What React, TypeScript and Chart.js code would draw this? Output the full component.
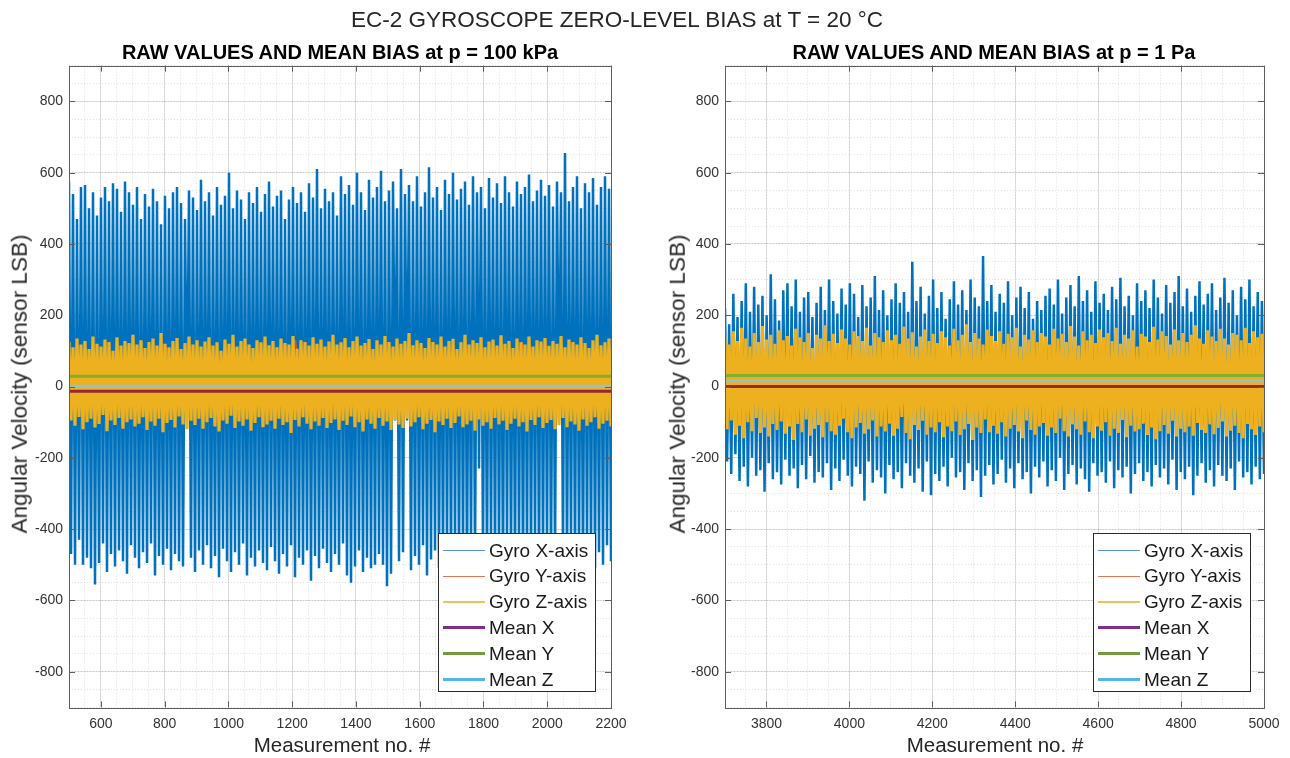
import React, { useEffect, useRef } from 'react';
import { Chart, registerables } from 'chart.js';
Chart.register(...registerables);

// ---------- DATA ----------
const MAIN_TITLE = 'EC-2 GYROSCOPE ZERO-LEVEL BIAS at T = 20 °C';
const LEFT_TITLE = 'RAW VALUES AND MEAN BIAS at p = 100 kPa';
const RIGHT_TITLE = 'RAW VALUES AND MEAN BIAS at p = 1 Pa';
const X_LABEL = 'Measurement no. #';
const Y_LABEL = 'Angular Velocity (sensor LSB)';
const SERIES_LABELS = ['Gyro X-axis', 'Gyro Y-axis', 'Gyro Z-axis', 'Mean X', 'Mean Y', 'Mean Z'];

const Y_MIN = -900;
const Y_MAX = 900;
const Y_TICKS = [-800, -600, -400, -200, 0, 200, 400, 600, 800];
const MINOR_STEP = 50;

const L_X_RANGE = [500, 2200];
const L_X_TICKS = [600, 800, 1000, 1200, 1400, 1600, 1800, 2000, 2200];
const R_X_RANGE = [3700, 5000];
const R_X_TICKS = [3800, 4000, 4200, 4400, 4600, 4800, 5000];

// mean bias [X, Y, Z]
const L_MEANS = [-13, 29, 1];
const R_MEANS = [0, 31, 16];

// left panel (p = 100 kPa): successive peaks / troughs of the raw signals
const L_X_HI = [
  575, 540, 470, 560, 565, 500, 545, 480, 530, 560, 520, 570, 555, 490, 575, 545, 510,
  560, 470, 540, 505, 555, 520, 455, 535, 500, 545, 560, 515, 470, 550, 530, 495, 580,
  520, 545, 480, 560, 510, 535, 600, 500, 550, 525, 470, 545, 515, 560, 490, 540, 575,
  505, 535, 550, 470, 525, 560, 515, 545, 490, 570, 530, 610, 500, 555, 520, 545, 480,
  590, 540, 565, 510, 600, 545, 495, 580, 530, 560, 605, 520, 550, 575, 500, 610, 540,
  565, 520, 590, 505, 545, 615, 530, 560, 495, 580, 540, 600, 525, 555, 575, 510, 590,
  545, 560, 500, 585, 530, 570, 515, 590, 545, 505, 575, 540, 560, 595, 520, 550, 580,
  535, 565, 505, 575, 545, 655, 520, 560, 590, 500, 570, 545, 585, 510, 560, 590, 555,
];
const L_X_LO = [
  -470, -500, -430, -500, -480, -510, -555, -495, -440, -520, -470, -505, -460, -490, -525, -445, -480,
  -510, -465, -495, -440, -530, -475, -500, -455, -515, -470, -490, -505, -95, -480, -520, -460, -500,
  -445, -510, -475, -535, -455, -490, -520, -465, -500, -440, -530, -480, -505, -460, -495, -515, -450,
  -490, -525, -470, -505, -445, -535, -480, -500, -460, -545, -475, -510, -455, -495, -520, -470, -500,
  -440, -530, -550, -505, -460, -520, -480, -510, -500, -470, -500, -560, -525, -95, -490, -465, -95,
  -515, -475, -500, -445, -530, -485, -460, -510, -495, -470, -520, -450, -505, -480, -535, -460, -490,
  -230, -470, -515, -455, -500, -480, -525, -445, -495, -510, -465, -530, -475, -500, -450, -520, -485,
  -460, -505, -480, -95, -470, -515, -450, -500, -475, -520, -455, -490, -510, -465, -500, -445, -490,
];
const L_Y_HI = [
  60, 45, 80, 55, 70, 50, 110, 65, 40, 75, 58, 85, 48, 68, 130, 52, 72,
  60, 44, 78, 62, 90, 50, 70, 56, 82, 46, 66, 125, 54, 74, 60, 48, 80,
];
const L_Y_LO = [
  -60, -45, -75, -50, -68, -55, -20, -62, -48, -80, -58, -66, -44, -72, -52, -85, -60,
  -46, -70, -56, -64, -50, -78, -58, -66, -48, -74, -54, -62, -44, -70, -56, -80, -60,
];
const L_Z_HI = [
  125, 110, 135, 118, 128, 105, 140, 120, 112, 132, 125, 100, 138, 115, 128, 122, 145,
  118, 130, 108, 125, 135, 115, 150, 120, 110, 128, 136, 105, 122, 140, 118, 130, 112,
  126, 138, 115, 124, 100, 132, 120, 145, 112, 128, 135, 118, 108, 130, 124, 140, 116,
  128, 110, 135, 122, 118, 142, 106, 130, 125, 115, 138, 120, 132, 112, 126, 145, 118,
  124, 136, 110, 128, 140, 115, 122, 133, 105, 130, 118, 142, 125, 112, 135, 120, 128,
  150, 116, 130, 122, 108, 136, 125, 118, 140, 112, 128, 134, 105, 124, 145, 118, 130,
  122, 138, 110, 126, 132, 115, 144, 120, 128, 108, 135, 124, 118, 140, 112, 130, 126,
  136, 114, 128, 120, 142, 110, 132, 125, 118, 138, 122, 108, 130, 145, 116, 124, 135,
];
const L_Z_LO = [
  -95, -110, -85, -120, -100, -90, -115, -105, -80, -125, -95, -108, -88, -118, -100, -92, -112,
  -104, -86, -122, -98, -110, -90, -128, -102, -94, -115, -84, -106, -120, -96, -108, -90, -118,
  -100, -88, -112, -126, -95, -104, -82, -116, -98, -110, -92, -124, -102, -86, -114, -106, -96,
  -118, -90, -108, -100, -130, -94, -112, -86, -104, -120, -98, -110, -88, -116, -102, -92, -122,
  -96, -108, -84, -114, -100, -126, -92, -104, -118, -88, -110, -98, -122, -94, -106, -116, -90,
  -112, -100, -86, -120, -104, -94, -128, -98, -108, -90, -116, -102, -84, -114, -106, -96, -124,
  -92, -110, -100, -118, -88, -106, -96, -122, -104, -90, -112, -100, -126, -94, -108, -86, -116,
  -102, -94, -120, -108, -88, -114, -98, -106, -124, -92, -110, -100, -86, -118, -104, -96, -112,
];

// right panel (p = 1 Pa)
const R_X_HI = [
  220, 175, 260, 195, 240, 290, 210, 280, 230, 255, 200, 315, 245,
  185, 270, 290, 225, 300, 210, 250, 265, 195, 235, 280, 215, 300,
  240, 205, 275, 230, 290, 260, 195, 285, 225, 250, 310, 215, 270,
  200, 245, 290, 235, 265, 210, 350, 240, 280, 205, 255, 300, 220,
  265, 190, 245, 295, 230, 270, 215, 300, 250, 225, 366, 240, 285,
  210, 260, 235, 295, 200, 250, 280, 220, 265, 190, 240, 215, 255,
  275, 230, 300, 205, 250, 285, 225, 310, 240, 270, 210, 295, 235,
  260, 215, 280, 245, 305, 225, 255, 200, 290, 240, 270, 220, 300,
  250, 205, 285, 235, 265, 310, 225, 275, 210, 255, 295, 230, 260,
  290, 215, 250, 305, 235, 270, 200, 280, 245, 300, 225, 265, 240,
];
const R_X_LO = [
  -210, -245, -190, -265, -225, -280, -200, -250, -235, -295, -215, -260, -240,
  -275, -205, -250, -230, -285, -220, -260, -195, -270, -240, -255, -215, -290,
  -230, -265, -205, -250, -280, -225, -245, -320, -210, -270, -235, -255, -300,
  -220, -260, -240, -285, -215, -250, -270, -230, -295, -210, -305, -245, -265,
  -225, -280, -200, -255, -240, -290, -215, -265, -235, -310, -250, -220, -275,
  -245, -205, -270, -230, -285, -215, -260, -240, -300, -225, -255, -210, -280,
  -235, -265, -200, -290, -245, -220, -275, -230, -260, -295, -215, -250, -240,
  -270, -210, -285, -235, -255, -225, -300, -245, -215, -265, -240, -280, -220,
  -255, -230, -275, -205, -290, -240, -260, -225, -305, -250, -215, -270, -235,
  -280, -220, -250, -265, -230, -290, -210, -255, -240, -275, -225, -260, -245,
];
const R_Y_HI = [50, 65, 40, 75, 55, 45, 70, 60, 85, 48, 62, 52, 78, 44, 66, 58, 72, 50, 90, 46, 64, 56, 74, 42, 68, 54];
const R_Y_LO = [-55, -40, -70, -50, -62, -45, -75, -58, -48, -66, -52, -80, -44, -60, -56, -72, -46, -64, -50, -68, -42, -58, -76, -54, -62, -48];
const R_Z_HI = [
  140, 118, 155, 128, 165, 135, 112, 150, 125, 170, 132, 145, 120,
  158, 130, 142, 115, 162, 138, 125, 150, 108, 145, 135, 172, 128,
  148, 122, 160, 135, 118, 155, 142, 128, 165, 115, 150, 138, 125,
  158, 130, 145, 120, 168, 135, 152, 112, 140, 160, 128, 148, 122,
  155, 138, 115, 162, 130, 145, 175, 125, 150, 135, 118, 160, 142,
  128, 155, 120, 148, 138, 165, 112, 145, 132, 158, 125, 150, 140,
  118, 162, 135, 148, 125, 170, 140, 115, 155, 130, 145, 122, 160,
  138, 150, 128, 165, 120, 145, 135, 158, 112, 148, 140, 125, 168,
  132, 155, 142, 118, 160, 130, 150, 125, 145, 172, 135, 120, 158,
  140, 128, 162, 135, 118, 150, 145, 130, 165, 122, 155, 138, 148,
];
const R_Z_LO = [
  -120, -95, -135, -110, -145, -100, -125, -88, -130, -115, -140, -105, -122,
  -98, -132, -112, -150, -105, -128, -92, -138, -118, -108, -142, -100, -125,
  -135, -110, -90, -128, -145, -115, -102, -132, -120, -95, -140, -112, -126,
  -104, -138, -118, -85, -130, -148, -108, -122, -96, -135, -115, -128, -100,
  -142, -112, -125, -98, -136, -120, -105, -150, -115, -130, -92, -128, -110,
  -132, -100, -140, -118, -108, -126, -145, -95, -122, -135, -112, -102, -138,
  -115, -130, -90, -125, -140, -106, -120, -135, -98, -128, -145, -112, -124,
  -100, -138, -118, -130, -94, -142, -110, -126, -120, -104, -136, -115, -148,
  -125, -108, -132, -96, -140, -118, -128, -112, -138, -102, -122, -130, -106,
  -134, -116, -98, -140, -124, -110, -130, -145, -105, -120, -136, -112, -128,
];

// ---------- STYLE / LAYOUT ----------
const FONT = '"Liberation Sans", Arial, Helvetica, sans-serif';
const PLOT_COLORS = ['#0072BD', '#D95319', '#EDB120', '#962836', '#86AE2E', '#93C2C8'];
const PLOT_WIDTHS = [2.5, 1.4, 3.2, 3, 3, 3];
const LEGEND_COLORS = ['#4f97cc', '#d9795a', '#ecc15e', '#7E2F8E', '#76993f', '#52b8e2'];
const LEGEND_WIDTHS = [1.5, 1.5, 1.5, 3, 3, 3];
const AXIS_COLOR = '#5e5e5e';
const TICK_COLOR = '#333333';
const MAJOR_GRID = 'rgba(0,0,0,0.11)';
const MINOR_GRID = 'rgba(0,0,0,0.12)';

const H = 758;
const AREA_TOP = 65.7;
const AREA_BOTTOM = 707.4;

type Panel = {
  xRange: number[];
  xTicks: number[];
  xHi: number[]; xLo: number[];
  yHi: number[]; yLo: number[];
  zHi: number[]; zLo: number[];
  means: number[];
  canvasLeft: number; canvasWidth: number; areaLeft: number; areaRight: number;
};

const PANELS: Panel[] = [
  { xRange: L_X_RANGE, xTicks: L_X_TICKS, xHi: L_X_HI, xLo: L_X_LO, yHi: L_Y_HI, yLo: L_Y_LO,
    zHi: L_Z_HI, zLo: L_Z_LO, means: L_MEANS, canvasLeft: 0, canvasWidth: 650, areaLeft: 69, areaRight: 611 },
  { xRange: R_X_RANGE, xTicks: R_X_TICKS, xHi: R_X_HI, xLo: R_X_LO, yHi: R_Y_HI, yLo: R_Y_LO,
    zHi: R_Z_HI, zLo: R_Z_LO, means: R_MEANS, canvasLeft: 650, canvasWidth: 640, areaLeft: 725, areaRight: 1264 },
];

function zigzag(hi: number[], lo: number[], x0: number, x1: number) {
  const n = Math.min(hi.length, lo.length);
  const total = 2 * n;
  const pts: { x: number; y: number }[] = [];
  for (let i = 0; i < n; i++) {
    pts.push({ x: x0 + ((2 * i) * (x1 - x0)) / (total - 1), y: hi[i] });
    pts.push({ x: x0 + ((2 * i + 1) * (x1 - x0)) / (total - 1), y: lo[i] });
  }
  return pts;
}

function range(a: number, b: number, step: number) {
  const out: number[] = [];
  for (let v = a; v <= b + 1e-9; v += step) out.push(v);
  return out;
}

const boxPlugin = {
  id: 'matlabBox',
  afterDraw(chart: any) {
    const { ctx, chartArea } = chart;
    const { left, right, top, bottom } = chartArea;
    const sx = chart.scales.x;
    const sy = chart.scales.y;
    ctx.save();
    ctx.strokeStyle = AXIS_COLOR;
    ctx.lineWidth = 1;
    ctx.beginPath();
    const tl = 6;
    sx.ticks.forEach((t: any) => {
      const px = Math.round(sx.getPixelForValue(t.value)) + 0.5;
      ctx.moveTo(px, bottom); ctx.lineTo(px, bottom - tl);
      ctx.moveTo(px, top); ctx.lineTo(px, top + tl);
    });
    sy.ticks.forEach((t: any) => {
      const py = Math.round(sy.getPixelForValue(t.value)) + 0.5;
      ctx.moveTo(left, py); ctx.lineTo(left + tl, py);
      ctx.moveTo(right, py); ctx.lineTo(right - tl, py);
    });
    ctx.stroke();
    ctx.strokeRect(Math.round(left) + 0.5, Math.round(top) + 0.5, Math.round(right - left), Math.round(bottom - top));
    ctx.restore();
  },
};

function makeConfig(p: Panel): any {
  const [x0, x1] = p.xRange;
  const flat = (v: number) => [{ x: x0, y: v }, { x: x1, y: v }];
  const datas = [
    zigzag(p.xHi, p.xLo, x0, x1),
    zigzag(p.yHi, p.yLo, x0, x1),
    zigzag(p.zHi, p.zLo, x0, x1),
    flat(p.means[0]),
    flat(p.means[1]),
    flat(p.means[2]),
  ];
  const datasets = datas.map((d, i) => ({
    label: SERIES_LABELS[i],
    data: d,
    borderColor: PLOT_COLORS[i],
    backgroundColor: PLOT_COLORS[i],
    borderWidth: PLOT_WIDTHS[i],
    borderJoinStyle: 'bevel',
    pointRadius: 0,
    tension: 0,
    fill: false,
    order: 6 - i,
  }));
  const yAxisWidth = p.areaLeft - p.canvasLeft;
  const padRight = p.canvasLeft + p.canvasWidth - p.areaRight;
  const tickFont = { family: FONT, size: 14 };
  const plain = (v: any) => String(v);
  return {
    type: 'line',
    data: { datasets },
    plugins: [boxPlugin],
    options: {
      animation: false,
      responsive: false,
      devicePixelRatio: 1,
      events: [],
      layout: { padding: { left: 0, top: AREA_TOP, right: padRight, bottom: 0 } },
      plugins: { legend: { display: false }, tooltip: { enabled: false }, title: { display: false } },
      scales: {
        xm: {
          type: 'linear', position: 'bottom', min: x0, max: x1,
          afterBuildTicks: (s: any) => { s.ticks = range(x0, x1, MINOR_STEP).map((v) => ({ value: v })); },
          afterFit: (s: any) => { s.height = 0; },
          ticks: { display: false },
          grid: { color: MINOR_GRID, drawTicks: false, lineWidth: 1 },
          border: { display: false, dash: [1, 2] },
        },
        ym: {
          type: 'linear', position: 'left', min: Y_MIN, max: Y_MAX,
          afterBuildTicks: (s: any) => { s.ticks = range(Y_MIN, Y_MAX, MINOR_STEP).map((v) => ({ value: v })); },
          afterFit: (s: any) => { s.width = 0; },
          ticks: { display: false },
          grid: { color: MINOR_GRID, drawTicks: false, lineWidth: 1 },
          border: { display: false, dash: [1, 2] },
        },
        x: {
          type: 'linear', position: 'bottom', min: x0, max: x1,
          afterBuildTicks: (s: any) => { s.ticks = p.xTicks.map((v) => ({ value: v })); },
          afterFit: (s: any) => { s.height = H - AREA_BOTTOM; },
          ticks: { font: tickFont, color: TICK_COLOR, padding: 8, maxRotation: 0, autoSkip: false, callback: plain },
          grid: { color: MAJOR_GRID, drawTicks: false, lineWidth: 1 },
          border: { display: false },
        },
        y: {
          type: 'linear', position: 'left', min: Y_MIN, max: Y_MAX,
          afterBuildTicks: (s: any) => { s.ticks = Y_TICKS.map((v) => ({ value: v })); },
          afterFit: (s: any) => { s.width = yAxisWidth; },
          ticks: { font: tickFont, color: TICK_COLOR, padding: 6, autoSkip: false, callback: plain },
          grid: { color: MAJOR_GRID, drawTicks: false, lineWidth: 1 },
          border: { display: false },
        },
      },
    },
  };
}

function PanelChart({ p }: { p: Panel }) {
  const ref = useRef<HTMLCanvasElement | null>(null);
  useEffect(() => {
    if (!ref.current) return;
    const chart = new Chart(ref.current, makeConfig(p));
    return () => chart.destroy();
  }, [p]);
  return (
    <canvas
      ref={ref}
      width={p.canvasWidth}
      height={H}
      style={{ position: 'absolute', left: p.canvasLeft, top: 0, width: p.canvasWidth, height: H }}
    />
  );
}

function Legend({ left }: { left: number }) {
  return (
    <div style={{ position: 'absolute', left, top: 533, width: 158, height: 159, boxSizing: 'border-box',
      border: '1px solid #2b2b2b', background: '#fff' }}>
      {SERIES_LABELS.map((label, i) => {
        const cy = 16.5 + i * 25.8;
        return (
          <React.Fragment key={label}>
            <div style={{ position: 'absolute', left: 4, width: 42, top: cy - LEGEND_WIDTHS[i] / 2,
              height: LEGEND_WIDTHS[i], background: LEGEND_COLORS[i] }} />
            <div style={{ position: 'absolute', left: 50, top: cy - 13, height: 26, lineHeight: '26px',
              fontSize: 19, fontFamily: FONT, color: '#1a1a1a', whiteSpace: 'nowrap' }}>{label}</div>
          </React.Fragment>
        );
      })}
    </div>
  );
}

function Text({ x, y, size, bold, rotate, children }: any) {
  return (
    <div style={{ position: 'absolute', left: x, top: y, transform: `translate(-50%, -50%)${rotate ? ' rotate(-90deg)' : ''}`,
      fontFamily: FONT, fontSize: size, fontWeight: bold ? 'bold' : 'normal', color: bold ? '#000' : '#262626',
      whiteSpace: 'nowrap', lineHeight: 1 }}>{children}</div>
  );
}

export default function App() {
  return (
    <div style={{ position: 'absolute', left: 0, top: 0, width: 1290, height: H, background: '#fff', overflow: 'hidden' }}>
      {PANELS.map((p, i) => <PanelChart key={i} p={p} />)}
      <Text x={617} y={20} size={22.5}>{MAIN_TITLE}</Text>
      <Text x={340} y={52} size={20} bold>{LEFT_TITLE}</Text>
      <Text x={994} y={52} size={20} bold>{RIGHT_TITLE}</Text>
      <Text x={342} y={745} size={20.5}>{X_LABEL}</Text>
      <Text x={995} y={745} size={20.5}>{X_LABEL}</Text>
      <Text x={20} y={384} size={22.5} rotate>{Y_LABEL}</Text>
      <Text x={678} y={384} size={22.5} rotate>{Y_LABEL}</Text>
      <Legend left={438} />
      <Legend left={1093} />
    </div>
  );
}
